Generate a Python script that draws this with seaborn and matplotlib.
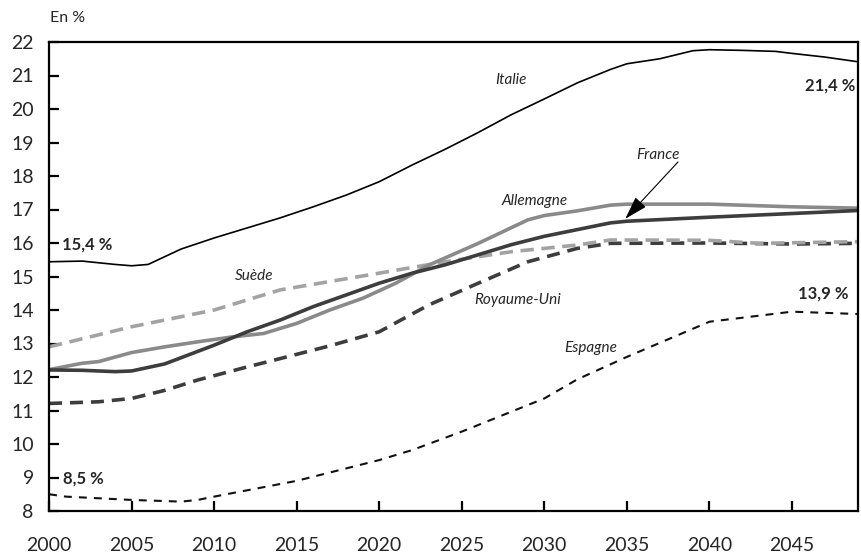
import matplotlib
matplotlib.use('Agg')
import matplotlib.pyplot as plt
import seaborn as sns
import pandas as pd

# ── Data ──
italie_years = [2000, 2002, 2004, 2005, 2006, 2008, 2010, 2012, 2014, 2016, 2018, 2020, 2022, 2024,
                2026, 2028, 2030, 2032, 2034, 2035, 2037, 2039, 2040, 2042, 2044, 2045, 2047, 2049]
italie = [15.44, 15.46, 15.36, 15.32, 15.36, 15.82, 16.15, 16.45, 16.75, 17.08, 17.43, 17.83, 18.33, 18.8,
          19.3, 19.83, 20.3, 20.78, 21.18, 21.35, 21.5, 21.74, 21.77, 21.75, 21.72, 21.66, 21.55, 21.41]

france_years = [2000, 2002, 2004, 2005, 2007, 2010, 2012, 2014, 2016, 2018, 2020, 2022, 2024,
                2026, 2028, 2030, 2032, 2034, 2035, 2040, 2045, 2049]
france = [12.21, 12.2, 12.16, 12.18, 12.39, 12.95, 13.35, 13.7, 14.1, 14.45, 14.8, 15.1, 15.35,
          15.65, 15.95, 16.2, 16.4, 16.6, 16.65, 16.77, 16.88, 16.97]

allemagne_years = [2000, 2002, 2003, 2005, 2007, 2009, 2011, 2013, 2015, 2017, 2019, 2021, 2023,
                   2026, 2029, 2030, 2032, 2034, 2035, 2040, 2045, 2049]
allemagne = [12.22, 12.41, 12.46, 12.73, 12.9, 13.05, 13.19, 13.3, 13.6, 14.0, 14.35, 14.8, 15.34,
             15.99, 16.69, 16.82, 16.96, 17.13, 17.16, 17.16, 17.08, 17.04]

suede_years = [2000, 2005, 2010, 2014, 2017, 2020, 2024, 2028, 2032, 2034, 2040, 2043, 2049]
suede = [12.9, 13.5, 14.0, 14.6, 14.85, 15.1, 15.44, 15.74, 15.94, 16.09, 16.08, 15.99, 16.04]

ru_years = [2000, 2003, 2005, 2007, 2009, 2012, 2014, 2017, 2020, 2023, 2026, 2029, 2032, 2034,
            2040, 2045, 2049]
royaume_uni = [11.21, 11.26, 11.36, 11.6, 11.91, 12.3, 12.55, 12.93, 13.35, 14.15, 14.8, 15.44, 15.84,
               15.99, 16.0, 15.97, 15.99]

espagne_years = [2000, 2001, 2005, 2008, 2009, 2010, 2015, 2020, 2022, 2025, 2030, 2032, 2035,
                 2037, 2040, 2045, 2049]
espagne = [8.5, 8.43, 8.33, 8.28, 8.33, 8.43, 8.9, 9.52, 9.82, 10.37, 11.36, 11.93, 12.6,
           13.02, 13.65, 13.95, 13.88]

x_ticks = [2000, 2005, 2010, 2015, 2020, 2025, 2030, 2035, 2040, 2045]
y_ticks = list(range(8, 23))

sns.set_style('ticks')
plt.rcParams['font.family'] = ['Lato', 'DejaVu Sans']

fig = plt.figure(figsize=(8.61, 5.60), dpi=100)
ax = fig.add_axes([0.057, 0.0875, 0.9395, 0.8375])

# (years, values, colour, linewidth, dashes)
series = [
    (espagne_years, espagne, '#111111', 1.5, (3.8, 3.4)),
    (ru_years, royaume_uni, '#3d3d3d', 2.6, (3.6, 2.2)),
    (suede_years, suede, '#a3a3a3', 2.6, (3.7, 2.1)),
    (allemagne_years, allemagne, '#8a8a8a', 2.6, None),
    (france_years, france, '#3d3d3d', 2.6, None),
    (italie_years, italie, '#000000', 1.2, None),
]
for yrs, vals, col, lw, dash in series:
    df = pd.DataFrame({'annee': yrs, 'val': vals})
    sns.lineplot(data=df, x='annee', y='val', color=col, linewidth=lw, ax=ax,
                 estimator=None, sort=False)
    line = ax.lines[-1]
    if dash is not None:
        line.set_dashes(dash)
    line.set_solid_joinstyle('round')

ax.set_xlim(2000, 2049)
ax.set_ylim(8, 22)
ax.set_xticks(x_ticks)
ax.set_yticks(y_ticks)
ax.set_xlabel('')
ax.set_ylabel('')
for s in ax.spines.values():
    s.set_linewidth(1.6)
    s.set_color('black')
ax.tick_params(axis='both', direction='in', length=7, width=1.6, labelsize=14, color='black')
ax.tick_params(axis='x', pad=19)
ax.tick_params(axis='y', pad=11)

# ── Series labels ──
lab = dict(fontsize=11, style='italic', ha='center', va='center')
ax.text(2028.0, 20.87, 'Italie', **lab)
ax.text(2029.4, 17.24, 'Allemagne', **lab)
ax.text(2012.4, 15.0, 'Suède', **lab)
ax.text(2028.4, 14.3, 'Royaume-Uni', **lab)
ax.text(2032.8, 12.87, 'Espagne', **lab)
ax.text(2036.9, 18.64, 'France', **lab)
ax.annotate('', xy=(2034.9, 16.72), xytext=(2038.1, 18.42),
            arrowprops=dict(arrowstyle='-|>,head_length=0.66,head_width=0.2',
                            color='black', lw=0.8, mutation_scale=22,
                            shrinkA=0, shrinkB=0))

# ── Value labels ──
val = dict(fontsize=12, fontweight='bold', ha='center', va='center')
ax.text(2002.3, 15.94, '15,4 %', **val)
ax.text(2002.1, 8.97, '8,5 %', **val)
ax.text(2047.3, 20.69, '21,4 %', **val)
ax.text(2046.9, 14.5, '13,9 %', **val)

fig.text(0.058, 0.967, 'En %', fontsize=11.5, ha='left', va='center')

fig.savefig('out.png', dpi=100)
